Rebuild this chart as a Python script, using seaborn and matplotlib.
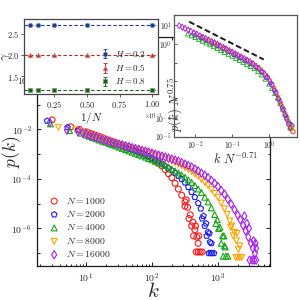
import numpy as np
import pandas as pd
import matplotlib
matplotlib.use("Agg")
import matplotlib.pyplot as plt
import matplotlib.ticker as mticker
import seaborn as sns

# ---------------- data (log10 values) ----------------
N_values = [1000, 2000, 4000, 8000, 16000]
series_colors = ["#ff1a1a", "#1a1aff", "#19a319", "#ffa500", "#a621f2"]
series_markers = ["o", "p", "^", "v", "d"]

logk_1000 = [0.485, 0.77, 0.90, 1.00, 1.05, 1.10, 1.15, 1.20, 1.25, 1.30, 1.35, 1.40, 1.45, 1.50, 1.55, 1.60, 1.65, 1.70, 1.75,
             1.80, 1.85, 1.90, 1.95, 2.00, 2.05, 2.10, 2.15, 2.20, 2.25, 2.30, 2.35, 2.40, 2.45, 2.50, 2.54, 2.58, 2.62, 2.65,
             2.68, 2.70, 2.73, 2.60, 2.66, 2.63, 2.70, 2.67, 2.76, 2.71, 2.56, 2.50, 2.52]
logp_1000 = [-1.62, -1.90, -2.00, -2.10, -2.15, -2.19, -2.24, -2.29, -2.34, -2.39, -2.44, -2.49, -2.54, -2.59, -2.64, -2.69, -2.75, -2.80, -2.85,
             -2.91, -2.97, -3.04, -3.10, -3.17, -3.27, -3.37, -3.48, -3.63, -3.79, -3.95, -4.18, -4.41, -4.66, -4.93, -5.15, -5.45, -5.75, -6.05,
             -6.35, -6.60, -6.95, -5.90, -5.90, -6.30, -6.95, -6.95, -6.95, -6.30, -5.60, -5.10, -4.85]

logk_2000 = [0.41, 0.72, 0.88, 1.00, 1.05, 1.10, 1.15, 1.20, 1.25, 1.30, 1.35, 1.40, 1.45, 1.50, 1.55, 1.60, 1.65, 1.70, 1.75,
             1.80, 1.85, 1.90, 1.95, 2.00, 2.05, 2.10, 2.15, 2.20, 2.25, 2.30, 2.35, 2.40, 2.45, 2.50, 2.55, 2.60, 2.65, 2.70,
             2.74, 2.78, 2.82, 2.85, 2.88, 2.91, 2.86, 2.89, 2.94, 2.83, 2.87, 2.80, 2.76, 2.90]
logp_2000 = [-1.66, -1.92, -2.02, -2.14, -2.19, -2.24, -2.29, -2.34, -2.39, -2.44, -2.49, -2.54, -2.59, -2.64, -2.69, -2.74, -2.79, -2.83, -2.88,
             -2.93, -2.98, -3.03, -3.09, -3.16, -3.23, -3.29, -3.38, -3.48, -3.57, -3.66, -3.76, -3.88, -4.01, -4.15, -4.33, -4.53, -4.74, -4.98,
             -5.20, -5.50, -5.80, -6.15, -6.55, -7.00, -7.00, -7.00, -7.00, -6.30, -6.20, -5.90, -5.60, -6.60]

logk_4000 = [0.46, 0.75, 0.92, 1.00, 1.05, 1.10, 1.15, 1.20, 1.25, 1.30, 1.35, 1.40, 1.45, 1.50, 1.55, 1.60, 1.65, 1.70, 1.75,
             1.80, 1.85, 1.90, 1.95, 2.00, 2.05, 2.10, 2.15, 2.20, 2.25, 2.30, 2.35, 2.40, 2.45, 2.50, 2.55, 2.60, 2.65, 2.70,
             2.75, 2.80, 2.85, 2.90, 2.95, 2.99, 3.03, 3.07, 3.10, 3.12, 3.08, 3.15, 3.05, 3.09, 3.01, 3.11, 2.97]
logp_4000 = [-1.78, -2.05, -2.15, -2.23, -2.28, -2.33, -2.38, -2.43, -2.48, -2.52, -2.57, -2.62, -2.67, -2.72, -2.77, -2.82, -2.87, -2.92, -2.97,
             -3.02, -3.07, -3.12, -3.18, -3.23, -3.29, -3.35, -3.40, -3.46, -3.53, -3.61, -3.68, -3.76, -3.84, -3.94, -4.04, -4.14, -4.27, -4.41,
             -4.55, -4.74, -4.93, -5.17, -5.44, -5.65, -5.95, -6.30, -6.70, -7.12, -7.12, -7.12, -6.60, -6.30, -6.00, -6.75, -5.80]

logk_8000 = [0.58, 0.84, 0.93, 1.00, 1.05, 1.10, 1.15, 1.20, 1.25, 1.30, 1.35, 1.40, 1.45, 1.50, 1.55, 1.60, 1.65, 1.70, 1.75,
             1.80, 1.85, 1.90, 1.95, 2.00, 2.05, 2.10, 2.15, 2.20, 2.25, 2.30, 2.35, 2.40, 2.45, 2.50, 2.55, 2.60, 2.65, 2.70,
             2.75, 2.80, 2.85, 2.90, 2.95, 3.00, 3.05, 3.10, 3.14, 3.18, 3.21, 3.25, 3.28, 3.31, 3.33,
             3.27, 3.30, 3.36, 3.23, 3.29, 3.19, 3.33]
logp_8000 = [-1.92, -2.02, -2.10, -2.17, -2.22, -2.26, -2.31, -2.36, -2.40, -2.45, -2.50, -2.54, -2.58, -2.62, -2.66, -2.70, -2.73, -2.77, -2.81,
             -2.85, -2.89, -2.93, -2.97, -3.01, -3.05, -3.10, -3.14, -3.19, -3.23, -3.28, -3.34, -3.41, -3.47, -3.54, -3.62, -3.71, -3.80, -3.90,
             -4.02, -4.15, -4.27, -4.43, -4.59, -4.75, -4.98, -5.21, -5.43, -5.70, -5.90, -6.16, -6.50, -6.85, -7.17,
             -7.17, -7.17, -7.17, -6.30, -6.20, -5.95, -6.70]

logk_16000 = [0.45, 0.71, 0.88, 0.95, 1.00, 1.05, 1.10, 1.15, 1.20, 1.25, 1.30, 1.35, 1.40, 1.45, 1.50, 1.55, 1.60, 1.65, 1.70, 1.75,
              1.80, 1.85, 1.90, 1.95, 2.00, 2.05, 2.10, 2.15, 2.20, 2.25, 2.30, 2.35, 2.40, 2.45, 2.50, 2.55, 2.60, 2.65, 2.70,
              2.75, 2.80, 2.85, 2.90, 2.95, 3.00, 3.05, 3.10, 3.15, 3.20, 3.25, 3.30, 3.34, 3.38, 3.42, 3.46, 3.50, 3.53, 3.56,
              3.48, 3.52, 3.55, 3.58, 3.58, 3.54, 3.47, 3.44, 3.40, 3.57]
logp_16000 = [-1.72, -2.03, -2.10, -2.15, -2.19, -2.24, -2.28, -2.32, -2.37, -2.41, -2.45, -2.49, -2.53, -2.56, -2.60, -2.63, -2.67, -2.70, -2.74, -2.78,
              -2.81, -2.85, -2.88, -2.92, -2.96, -3.00, -3.04, -3.08, -3.12, -3.16, -3.20, -3.24, -3.28, -3.34, -3.40, -3.46, -3.52, -3.60, -3.68,
              -3.77, -3.85, -3.95, -4.06, -4.18, -4.31, -4.47, -4.62, -4.82, -5.02, -5.24, -5.46, -5.65, -5.88, -6.10, -6.35, -6.60, -6.80, -7.00,
              -7.28, -7.28, -7.28, -7.28, -6.80, -6.50, -6.00, -5.80, -5.50, -6.60]

# rescaled inset: log10(k N^-0.71) and log10(p N^0.75)
ins_lx_1000 = [-1.80, -1.65, -1.50, -1.35, -1.20, -1.05, -0.90, -0.75, -0.60, -0.45, -0.30, -0.16, -0.04, 0.08, 0.19, 0.30, 0.40, 0.48, 0.55, 0.60, 0.65]
ins_ly_1000 = [0.34, 0.19, 0.06, -0.10, -0.25, -0.41, -0.56, -0.72, -0.88, -1.05, -1.27, -1.53, -1.80, -2.17, -2.60, -3.10, -3.55, -3.95, -4.30, -4.50, -4.70]
ins_lx_2000 = [-2.00, -1.85, -1.70, -1.55, -1.40, -1.25, -1.10, -0.95, -0.80, -0.65, -0.50, -0.35, -0.20, -0.08, 0.04, 0.15, 0.26, 0.36, 0.45, 0.52, 0.58, 0.63]
ins_ly_2000 = [0.47, 0.33, 0.18, 0.03, -0.11, -0.27, -0.43, -0.58, -0.75, -0.90, -1.06, -1.25, -1.50, -1.80, -2.10, -2.50, -2.95, -3.40, -3.85, -4.15, -4.30, -4.40]
ins_lx_4000 = [-2.20, -2.10, -2.00, -1.90, -1.80, -1.70, -1.60, -1.50, -1.40, -1.30, -1.20, -1.10, -1.00, -0.90, -0.80, -0.70, -0.60,
               -0.50, -0.40, -0.30, -0.20, -0.10, 0.00, 0.08, 0.16, 0.23, 0.30, 0.37, 0.43, 0.49, 0.54, 0.58, 0.60, 0.57]
ins_ly_4000 = [0.54, 0.44, 0.35, 0.25, 0.15, 0.06, -0.04, -0.14, -0.24, -0.34, -0.45, -0.55, -0.65, -0.77, -0.88, -0.98, -1.10,
               -1.21, -1.32, -1.48, -1.66, -1.88, -2.15, -2.38, -2.65, -2.90, -3.18, -3.48, -3.76, -4.00, -4.25, -4.42, -4.50, -4.50]
ins_lx_8000 = [-2.33, -2.18, -2.03, -1.88, -1.73, -1.58, -1.43, -1.28, -1.13, -0.98, -0.83, -0.68, -0.53, -0.38, -0.23, -0.10, 0.02, 0.14, 0.25, 0.35, 0.44, 0.52, 0.58, 0.62]
ins_ly_8000 = [0.84, 0.70, 0.55, 0.41, 0.26, 0.12, -0.03, -0.18, -0.35, -0.50, -0.68, -0.82, -0.99, -1.17, -1.40, -1.70, -2.00, -2.40, -2.88, -3.35, -3.80, -4.20, -4.45, -4.60]
ins_lx_16000 = [-2.43, -2.35, -2.27, -2.19, -2.11, -2.03, -1.95, -1.87, -1.79, -1.71, -1.63, -1.55, -1.47, -1.39, -1.31, -1.23, -1.15,
                -1.07, -0.99, -0.91, -0.83, -0.75, -0.67, -0.59, -0.51, -0.43, -0.35, -0.27, -0.19, -0.11, -0.04, 0.02, 0.08,
                0.14, 0.20, 0.26, 0.32, 0.38, 0.43, 0.48, 0.53, 0.57]
ins_ly_16000 = [0.98, 0.90, 0.83, 0.75, 0.67, 0.60, 0.52, 0.44, 0.36, 0.29, 0.21, 0.13, 0.06, -0.02, -0.11, -0.19, -0.28,
                -0.36, -0.45, -0.53, -0.62, -0.70, -0.79, -0.87, -0.96, -1.06, -1.19, -1.33, -1.48, -1.63, -1.78, -1.98, -2.20,
                -2.43, -2.67, -2.94, -3.24, -3.53, -3.78, -4.04, -4.30, -4.50]
guide_lx = [-2.16, -0.14]
guide_ly = [1.19, -0.84]

# gamma vs 1/N (x in units of 1e-3)
H_labels = ["$H = 0.2$", "$H = 0.5$", "$H = 0.8$"]
gamma_H02 = [2.70, 2.70, 2.70, 2.70, 2.70]
gamma_H05 = [2.00, 2.00, 2.00, 2.00, 2.00]
gamma_H08 = [1.19, 1.19, 1.19, 1.19, 1.19]
gamma_err = [0.01, 0.01, 0.01, 0.01, 0.01]
H_colors = ["#1b3a8c", "#b02a2a", "#1d5e1d"]
H_edge = ["#7d92c8", "#d98080", "#6fa36f"]
H_markers = ["o", "^", "s"]

# ---------------- style ----------------
sns.set_theme(style="ticks")
plt.rcParams.update({
    "font.family": "serif",
    "font.serif": ["cmr10", "DejaVu Serif"],
    "mathtext.fontset": "cm",
    "axes.formatter.use_mathtext": True,
    "axes.unicode_minus": False,
})

fig = plt.figure(figsize=(3, 3), dpi=100)

# ---------------- main axes ----------------
ax = fig.add_axes([0.123, 0.113, 0.777, 0.764])
main_k = [logk_1000, logk_2000, logk_4000, logk_8000, logk_16000]
main_p = [logp_1000, logp_2000, logp_4000, logp_8000, logp_16000]
for N, lk, lp, c, m in zip(N_values, main_k, main_p, series_colors, series_markers):
    df = pd.DataFrame({"k": 10 ** np.array(lk), "p": 10 ** np.array(lp)})
    sns.scatterplot(data=df, x="k", y="p", ax=ax, marker=m, s=18, facecolor="none",
                    edgecolor=c, linewidth=0.8, label=f"$N = {N}$")
ax.set_xscale("log")
ax.set_yscale("log")
ax.set_xlim(1.8, 6150)
ax.set_ylim(10 ** -7.52, 10 ** 1.73)
ax.yaxis.set_major_locator(mticker.FixedLocator([1e-8, 1e-6, 1e-4, 1e-2, 1e0]))
ax.yaxis.set_minor_locator(mticker.FixedLocator([1e-7, 1e-5, 1e-3, 1e-1, 1e1]))
ax.yaxis.set_minor_formatter(mticker.NullFormatter())
ax.xaxis.set_major_locator(mticker.LogLocator(base=10))
ax.xaxis.set_minor_locator(mticker.LogLocator(base=10, subs=np.arange(2, 10)))
ax.xaxis.set_minor_formatter(mticker.NullFormatter())
ax.tick_params(which="both", direction="in", top=True, right=True, labelsize=7, width=0.7, color="k")
ax.tick_params(which="major", length=3)
ax.tick_params(which="minor", length=1.8)
for s in ax.spines.values():
    s.set_color("k")
    s.set_linewidth(0.9)
ax.set_xlabel("$k$", fontsize=15, labelpad=-2)
ax.set_ylabel("$p(k)$", fontsize=12.5, labelpad=0)
ax.yaxis.set_label_coords(-0.058, 0.5)
ax.legend(loc="lower left", frameon=False, fontsize=7, bbox_to_anchor=(0.02, 0.0),
          handletextpad=0.6, labelspacing=0.35, borderaxespad=0.3, handlelength=1.2)

# ---------------- inset: gamma vs 1/N ----------------
ax1 = fig.add_axes([0.08, 0.687, 0.447, 0.25])
ax1.set_facecolor("white")
invN = 1000.0 / np.array(N_values[::-1])
for g, lab, c, ec, m in zip([gamma_H02, gamma_H05, gamma_H08], H_labels, H_colors, H_edge, H_markers):
    ax1.axhline(np.mean(g), ls="--", color=c, lw=0.8, dashes=(3, 2))
    ax1.errorbar(invN, g, yerr=gamma_err, fmt=m, color=c, ms=3.2, mec=ec, mew=0.6,
                 capsize=1.5, elinewidth=0.7, label=lab)
ax1.set_xlim(0.016, 1.046)
ax1.set_ylim(1.09, 2.85)
ax1.set_xticks([0.25, 0.5, 0.75, 1.0])
ax1.xaxis.set_major_formatter(mticker.FuncFormatter(lambda v, p: f"${v:.2f}$"))
ax1.set_yticks([1.5, 2.0, 2.5])
ax1.yaxis.set_major_formatter(mticker.FuncFormatter(lambda v, p: f"${v:.1f}$"))
ax1.tick_params(labelsize=6, length=2, width=0.6, pad=1.5, color="#444444")
for s in ax1.spines.values():
    s.set_color("#444444")
    s.set_linewidth(0.9)
ax1.set_xlabel("$1/N$", fontsize=8, labelpad=0)
ax1.set_ylabel(r"$\gamma$", fontsize=9, labelpad=0)
ax1.yaxis.set_label_coords(-0.085, 0.5)
ax1.text(0.965, -0.3, r"$\times10^{-3}$", transform=ax1.transAxes, fontsize=4.5, ha="center", va="center")
ax1.legend(loc="center left", bbox_to_anchor=(0.52, 0.35), frameon=False, fontsize=6.5,
           handlelength=1.0, handletextpad=0.6, labelspacing=0.35, borderpad=0.3)

# ---------------- inset: scaling collapse ----------------
ax2 = fig.add_axes([0.58, 0.543, 0.41, 0.407])
ax2.set_facecolor("white")
ins_x = [ins_lx_1000, ins_lx_2000, ins_lx_4000, ins_lx_8000, ins_lx_16000]
ins_y = [ins_ly_1000, ins_ly_2000, ins_ly_4000, ins_ly_8000, ins_ly_16000]
for lx, ly, c, m in zip(ins_x, ins_y, series_colors, series_markers):
    df = pd.DataFrame({"x": 10 ** np.array(lx), "y": 10 ** np.array(ly)})
    sns.scatterplot(data=df, x="x", y="y", ax=ax2, marker=m, s=10, facecolor="none",
                    edgecolor=c, linewidth=0.6)
ax2.plot(10 ** np.array(guide_lx), 10 ** np.array(guide_ly), color="k", lw=1.4, ls=(0, (3, 1.5)))
ax2.set_xscale("log")
ax2.set_yscale("log")
ax2.set_xlim(10 ** -2.57, 10 ** 0.76)
ax2.set_ylim(1e-5, 10 ** 1.55)
ax2.xaxis.set_major_locator(mticker.FixedLocator([1e-2, 1e-1, 1e0]))
ax2.xaxis.set_minor_locator(mticker.NullLocator())
ax2.yaxis.set_major_locator(mticker.FixedLocator([1e-5, 1e-4, 1e-3, 1e-2, 1e-1, 1e0, 1e1]))
ax2.yaxis.set_minor_locator(mticker.NullLocator())
shown = {-5: r"$10^{-5}$", -4: r"$10^{-4}$", 0: r"$10^{0}$", 1: r"$10^{1}$"}
ax2.yaxis.set_major_formatter(mticker.FuncFormatter(lambda v, p: shown.get(int(round(np.log10(v))), "")))
ax2.tick_params(labelsize=5.5, length=2, width=0.6, pad=1.5, direction="in", color="#444444")
for s in ax2.spines.values():
    s.set_color("#555555")
    s.set_linewidth(0.9)
ax2.set_xlabel(r"$k\ N^{-0.71}$", fontsize=9, labelpad=0)
ax2.set_ylabel(r"$p(k)\ N^{0.75}$", fontsize=9)
ax2.yaxis.set_label_coords(0.09, 0.27)

fig.savefig("out.png", dpi=100)
